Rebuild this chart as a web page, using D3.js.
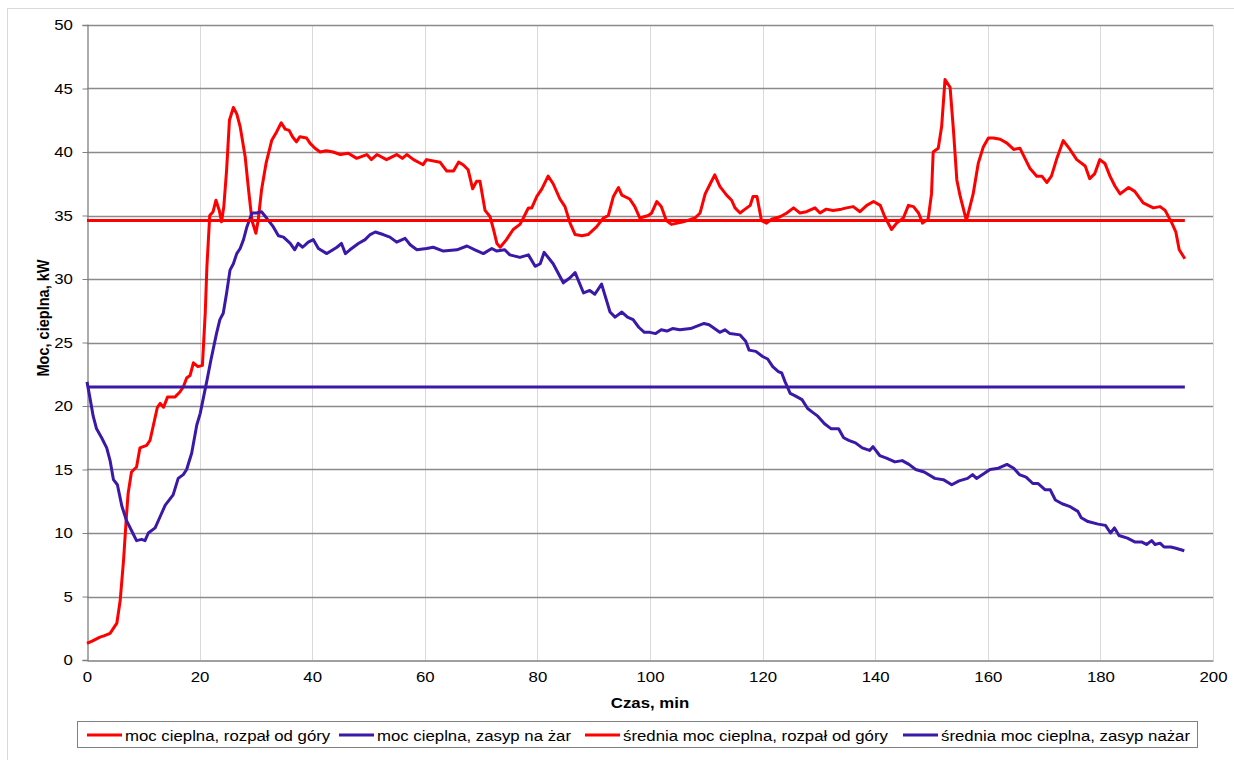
<!DOCTYPE html>
<html><head><meta charset="utf-8">
<script src="https://cdn.jsdelivr.net/npm/d3@7"></script>
<style>body{margin:0;background:#fff;}svg{display:block;font-family:"Liberation Sans",Arial,sans-serif;}</style>
</head><body>
<svg id="c" width="1234" height="760"></svg>
<script>
const xTicks = [0,20,40,60,80,100,120,140,160,180,200];
const yTicks = [0,5,10,15,20,25,30,35,40,45,50];
const seriesNames = ["moc cieplna, rozpał od góry","moc cieplna, zasyp na żar","średnia moc cieplna, rozpał od góry","średnia moc cieplna, zasyp nażar"];
const seriesColors = ["#ff0000","#3a18a8","#ff0000","#3a18a8"];

const redTime = [0,1,2.3,3,4.1,5.3,5.9,6.5,7.0,7.3,7.9,8.8,9.4,10.6,11.2,11.8,12.5,13.0,13.6,14.3,15.6,16.5,17.1,17.7,18.3,18.9,19.7,20.5,21.0,21.3,21.8,22.4,22.9,23.5,23.9,24.3,24.8,25.3,26.0,26.6,27.2,28.1,28.7,29.3,30.0,30.4,31.0,31.8,32.8,33.7,34.5,35.2,35.9,36.5,37.2,37.8,39.0,39.6,40.5,41.4,42.5,43.7,45.0,46.4,47.9,49.7,50.5,51.5,53.2,55.0,56.0,56.8,58.0,59.7,60.3,62.7,63.9,65.1,66.0,66.8,67.7,68.5,69.2,69.8,70.7,71.6,72.2,72.8,73.4,74.5,75.7,76.9,77.5,78.4,79.0,79.9,80.8,81.9,82.8,84.0,84.9,85.8,86.7,87.9,89.0,90.5,91.7,92.6,93.5,94.4,95.0,96.4,97.3,98.2,99.7,100.3,101.2,102.0,102.9,103.8,105.9,108.0,108.9,109.8,110.7,111.5,112.4,113.6,114.5,115.1,116.0,116.6,117.8,118.3,119.0,119.8,120.7,121.6,123.1,124.3,125.5,126.6,127.8,129.3,130.2,131.3,132.5,134.0,134.9,136.1,137.3,138.5,139.7,140.9,141.7,142.9,143.8,145.0,145.9,146.8,147.7,148.4,149.4,150.0,150.3,151.2,151.8,152.4,153.3,153.9,154.5,155.1,156.2,157.4,158.3,159.2,160.1,161.0,162.2,163.4,164.6,165.7,166.6,167.5,168.7,169.6,170.5,171.3,172.2,173.4,174.6,175.8,177.3,178.1,179.0,179.9,180.8,181.7,182.6,183.5,185.0,186.1,187.6,189.4,190.6,191.5,192.7,193.4,194.0,195.0];
const redValue = [1.3,1.5,1.8,1.9,2.1,2.9,4.7,7.9,11.3,13.1,14.8,15.2,16.7,16.9,17.3,18.5,19.9,20.2,19.9,20.7,20.7,21.1,21.5,22.2,22.4,23.4,23.1,23.2,27.3,31.0,35.0,35.3,36.2,35.4,34.5,35.7,38.6,42.5,43.5,43.0,42.0,39.6,37.0,34.6,33.6,34.6,37.0,39.1,40.9,41.6,42.3,41.8,41.7,41.2,40.8,41.2,41.1,40.7,40.3,40.0,40.1,40.0,39.8,39.9,39.5,39.8,39.4,39.8,39.4,39.8,39.5,39.8,39.4,39.0,39.4,39.2,38.5,38.5,39.2,39.0,38.6,37.1,37.7,37.7,35.4,34.9,33.9,32.8,32.5,33.1,33.9,34.3,34.8,35.6,35.6,36.5,37.1,38.1,37.5,36.3,35.7,34.4,33.5,33.4,33.5,34.1,34.8,35.0,36.5,37.2,36.6,36.3,35.7,34.8,35.0,35.2,36.1,35.7,34.6,34.3,34.5,34.8,35.2,36.7,37.5,38.2,37.3,36.6,36.2,35.6,35.2,35.4,35.8,36.5,36.5,34.6,34.4,34.7,34.9,35.2,35.6,35.2,35.3,35.6,35.2,35.5,35.4,35.5,35.6,35.7,35.3,35.8,36.1,35.8,34.9,33.9,34.4,34.8,35.8,35.7,35.2,34.4,34.7,36.7,40.0,40.3,42.0,45.7,45.1,41.7,37.8,36.5,34.6,36.7,39.1,40.4,41.1,41.1,41.0,40.7,40.2,40.3,39.5,38.7,38.1,38.1,37.6,38.1,39.4,40.9,40.2,39.4,38.9,37.9,38.3,39.4,39.1,38.1,37.3,36.7,37.2,36.9,36.0,35.6,35.7,35.4,34.4,33.7,32.3,31.6];

const blueTime = [0,0.5,1.1,1.7,2.6,3.5,4.1,4.7,5.4,6.2,7.0,7.9,8.8,9.7,10.3,10.9,12.1,13.0,13.9,15.3,16.2,17.1,17.7,18.6,19.5,20.1,20.7,21.3,22.0,23.0,23.6,24.2,24.8,25.4,26.0,26.6,27.2,27.8,28.4,29.3,30.1,31.0,31.9,33.1,34.0,34.9,36.1,36.9,37.5,38.3,39.3,40.2,41.1,42.6,44.4,45.2,45.9,46.7,48.2,49.4,50.3,51.2,52.6,53.8,55.0,56.5,57.4,58.6,60.3,61.5,63.3,65.7,67.5,68.9,70.4,71.9,72.8,74.2,75.1,76.9,78.4,79.6,80.5,81.2,82.8,84.6,85.8,86.7,88.2,89.3,90.2,91.4,92.9,93.8,95.0,96.0,97.0,98.0,99.0,100.0,101.0,102.0,103.0,104.0,105.3,107.2,109.6,110.5,112.4,113.3,114.2,116.0,117.0,117.6,118.8,120.0,120.9,121.8,122.8,123.4,124.0,124.9,125.8,127.0,128.0,128.9,129.8,131.0,132.2,133.5,134.4,135.3,136.5,137.7,139.0,139.6,140.8,142.0,143.5,144.8,146.0,147.2,148.7,150.6,152.1,153.6,154.9,156.4,157.3,158.0,159.4,160.4,161.9,163.4,164.6,165.6,166.8,168.0,168.9,170.2,171.1,172.0,173.2,174.5,176.0,176.6,177.8,179.6,180.9,181.8,182.5,183.3,184.8,186.1,187.3,188.2,189.1,189.7,190.6,191.3,192.5,193.4,194.9];
const blueValue = [21.9,20.7,19.2,18.2,17.5,16.7,15.7,14.2,13.8,12.1,11.0,10.2,9.4,9.5,9.4,10.0,10.4,11.3,12.2,13.0,14.3,14.6,15.0,16.3,18.5,19.4,20.7,22.0,23.6,25.7,26.8,27.3,28.9,30.7,31.2,32.0,32.4,33.1,34.1,35.2,35.2,35.3,34.8,34.1,33.4,33.3,32.8,32.3,32.8,32.5,32.9,33.1,32.4,32.0,32.5,32.8,32.0,32.3,32.8,33.1,33.5,33.7,33.5,33.3,32.9,33.2,32.7,32.3,32.4,32.5,32.2,32.3,32.6,32.3,32.0,32.4,32.2,32.3,31.9,31.7,31.9,31.0,31.2,32.1,31.2,29.7,30.1,30.5,28.9,29.1,28.8,29.6,27.4,27.0,27.4,27.0,26.8,26.2,25.8,25.8,25.7,26.0,25.9,26.1,26.0,26.1,26.5,26.4,25.8,26.0,25.7,25.6,25.1,24.4,24.3,23.9,23.7,23.1,22.7,22.6,21.9,21.0,20.8,20.5,19.8,19.5,19.2,18.6,18.2,18.2,17.5,17.3,17.1,16.7,16.5,16.8,16.1,15.9,15.6,15.7,15.4,15.0,14.8,14.3,14.2,13.8,14.1,14.3,14.6,14.3,14.7,15.0,15.1,15.4,15.1,14.6,14.4,13.9,13.9,13.4,13.4,12.6,12.3,12.1,11.7,11.2,10.9,10.7,10.6,10.0,10.4,9.8,9.6,9.3,9.3,9.1,9.4,9.1,9.2,8.9,8.9,8.8,8.6];

const avgTime = [0,195];
const redAvg = [34.6,34.6];
const blueAvg = [21.5,21.5];

const SX = 1.12; // horizontal stretch of the reference text
const svg = d3.select("#c");
const L=87, R=1213, T=25, B=660;
const x = d3.scaleLinear().domain([0,200]).range([L,R]);
const y = d3.scaleLinear().domain([0,50]).range([B,T]);

// outer frame
svg.append("rect").attr("x",7.5).attr("y",8.5).attr("width",1240).attr("height",770)
  .attr("fill","none").attr("stroke","#d9d9d9");

// vertical gridlines
svg.append("g").selectAll("line").data(xTicks.filter(d=>d>0)).join("line")
  .attr("x1",d=>Math.round(x(d))+0.5).attr("x2",d=>Math.round(x(d))+0.5)
  .attr("y1",T).attr("y2",B).attr("stroke","#d9d9d9").attr("stroke-width",1);
// horizontal gridlines
svg.append("g").selectAll("line").data(yTicks.filter(d=>d>0)).join("line")
  .attr("x1",L).attr("x2",R).attr("y1",d=>Math.round(y(d))+0.5).attr("y2",d=>Math.round(y(d))+0.5)
  .attr("stroke","#8a8a8a").attr("stroke-width",1.3);

// axes
const yAxis = d3.axisLeft(y).tickValues(yTicks).tickSize(5).tickPadding(8);
const gy = svg.append("g").attr("transform",`translate(${L+0.5},0)`).call(yAxis);
gy.select(".domain").attr("stroke","#808080").attr("stroke-width",1.3);
gy.selectAll(".tick line").attr("stroke","#808080");
gy.selectAll("text").attr("font-size",15).attr("fill","#000")
  .attr("font-family","Liberation Sans, Arial, sans-serif").attr("transform",`scale(${SX},1)`);

const xAxis = d3.axisBottom(x).tickValues(xTicks).tickSize(0).tickPadding(11);
const gx = svg.append("g").attr("transform",`translate(0,${B+0.5})`).call(xAxis);
gx.select(".domain").attr("stroke","#808080").attr("stroke-width",1.3);
gx.selectAll("text").attr("font-size",15).attr("fill","#000")
  .attr("font-family","Liberation Sans, Arial, sans-serif").attr("transform",`scale(${SX},1)`);

// axis titles
svg.append("g").attr("transform",`translate(650,708) scale(${SX},1)`).append("text")
  .attr("text-anchor","middle").attr("font-size",15).attr("font-weight","bold").text("Czas, min");
svg.append("text").attr("transform",`translate(49,318) scale(${SX},1) rotate(-90)`).attr("text-anchor","middle")
  .attr("font-size",15).attr("font-weight","bold")
  .attr("textLength",117).attr("lengthAdjust","spacingAndGlyphs").text("Moc, cieplna, kW");

// lines
const line = (ts,vs) => d3.line().x((d,i)=>x(ts[i])).y(d=>y(d))(vs);
const lines = [[redTime,redValue,0],[blueTime,blueValue,1],[avgTime,redAvg,2],[avgTime,blueAvg,3]];
svg.append("g").selectAll("path").data(lines).join("path")
  .attr("d",d=>line(d[0],d[1])).attr("fill","none")
  .attr("stroke",d=>seriesColors[d[2]]).attr("stroke-width",3)
  .attr("stroke-linejoin","round").attr("stroke-linecap","butt");

// legend
svg.append("rect").attr("x",77.5).attr("y",721.5).attr("width",1120).attr("height",26)
  .attr("fill","#fff").attr("stroke","#808080");
const legLine = [87,339,585,903];
const legText = [125,377,623,941];
seriesNames.forEach((name,i)=>{
  svg.append("line").attr("x1",legLine[i]).attr("x2",legLine[i]+35).attr("y1",735).attr("y2",735)
    .attr("stroke",seriesColors[i]).attr("stroke-width",3);
  svg.append("g").attr("transform",`translate(${legText[i]},741) scale(${SX},1)`)
    .append("text").attr("font-size",15).text(name);
});
</script>
</body></html>
